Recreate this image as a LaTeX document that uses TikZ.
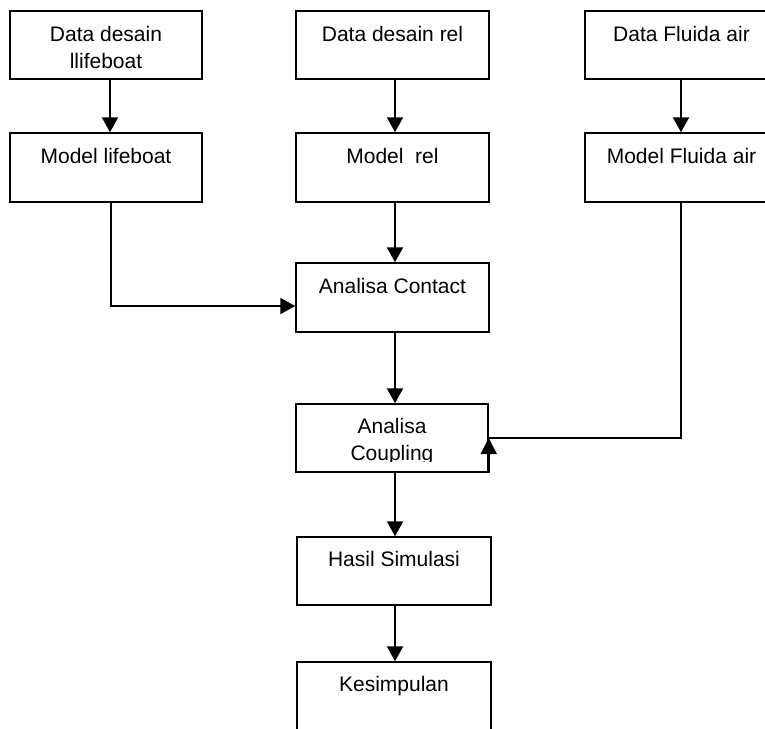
\documentclass[tikz,border=0pt]{standalone}
\usepackage{fontspec}
\setmainfont{Liberation Sans}
\usetikzlibrary{arrows.meta}
\begin{document}
\begin{tikzpicture}[x=1pt,y=-1pt,
  box/.style={draw=black,line width=1.5pt,rectangle,inner sep=0pt,minimum width=193pt,minimum height=69pt},
  lbl/.style={anchor=base,inner sep=0pt,font=\fontsize{21}{25}\selectfont},
  arr/.style={line width=2.2pt,-{Triangle[length=15pt,width=16pt]}},
  ln/.style={line width=2.2pt}]
\useasboundingbox (0,0) rectangle (765,728);
% boxes
\node[box,minimum width=192pt,minimum height=68pt] (b1) at (106,45) {};
\node[box,minimum height=68pt] (b2) at (392.5,45) {};
\node[box,minimum height=68pt] (b3) at (681.5,45) {};
\node[box,minimum width=192pt] (m1) at (106,167.5) {};
\node[box] (m2) at (392.5,167.5) {};
\node[box] (m3) at (681.5,167.5) {};
\node[box] (c) at (392.5,297.5) {};
\node[box,minimum width=192pt,minimum height=68pt] (cp) at (392,438) {};
\node[box,minimum width=194pt,minimum height=68pt] (h) at (394,571) {};
\node[box,minimum width=194pt] (k) at (394,696.5) {};
% labels
\node[lbl] (t1a) at ([yshift=-31pt]b1.north) {Data desain};
\node[lbl] (t1b) at ([yshift=-58pt]b1.north) {llifeboat};
\node[lbl] (t2) at ([yshift=-31pt]b2.north) {Data desain rel};
\node[lbl] (t3) at ([yshift=-31pt]b3.north) {Data Fluida air};
\node[lbl] (t4) at ([yshift=-31pt]m1.north) {Model lifeboat};
\node[lbl] (t5) at ([yshift=-31pt]m2.north) {Model~~rel};
\node[lbl] (t6) at ([yshift=-31pt]m3.north) {Model Fluida air};
\node[lbl] (t7) at ([yshift=-31pt]c.north) {Analisa Contact};
\node[lbl] (t8a) at ([yshift=-30pt]cp.north) {Analisa};
\begin{scope}
  \clip (cp.north west) rectangle ([yshift=-58pt]cp.north east);
  \node[lbl] (t8b) at ([yshift=-57pt]cp.north) {Coupling};
\end{scope}
\node[lbl] (t9) at ([yshift=-30pt]h.north) {Hasil Simulasi};
\node[lbl] (t10) at ([yshift=-30pt]k.north) {Kesimpulan};
% connectors
\draw[arr] ([xshift=4pt]b1.south) -- ([xshift=4pt]m1.north);
\draw[arr] ([xshift=2.5pt]b2.south) -- ([xshift=2.5pt]m2.north);
\draw[arr] ([xshift=-0.5pt]b3.south) -- ([xshift=-0.5pt]m3.north);
\draw[arr] ([xshift=2.5pt]m2.south) -- ([xshift=2.5pt]c.north);
\draw[arr] ([xshift=5pt]m1.south) |- ([yshift=-8.5pt]c.west);
\draw[arr] ([xshift=2.5pt]c.south) -- ([xshift=3pt]cp.north);
\draw[ln] ([xshift=-0.5pt]m3.south) |- (cp.east);
\draw[line width=1.5pt,-{Triangle[length=16pt,width=16pt]}] (cp.south east) -- (cp.east);
\draw[arr] ([xshift=3pt]cp.south) -- ([xshift=1pt]h.north);
\draw[arr] ([xshift=1pt]h.south) -- ([xshift=1pt]k.north);
\end{tikzpicture}
\end{document}
